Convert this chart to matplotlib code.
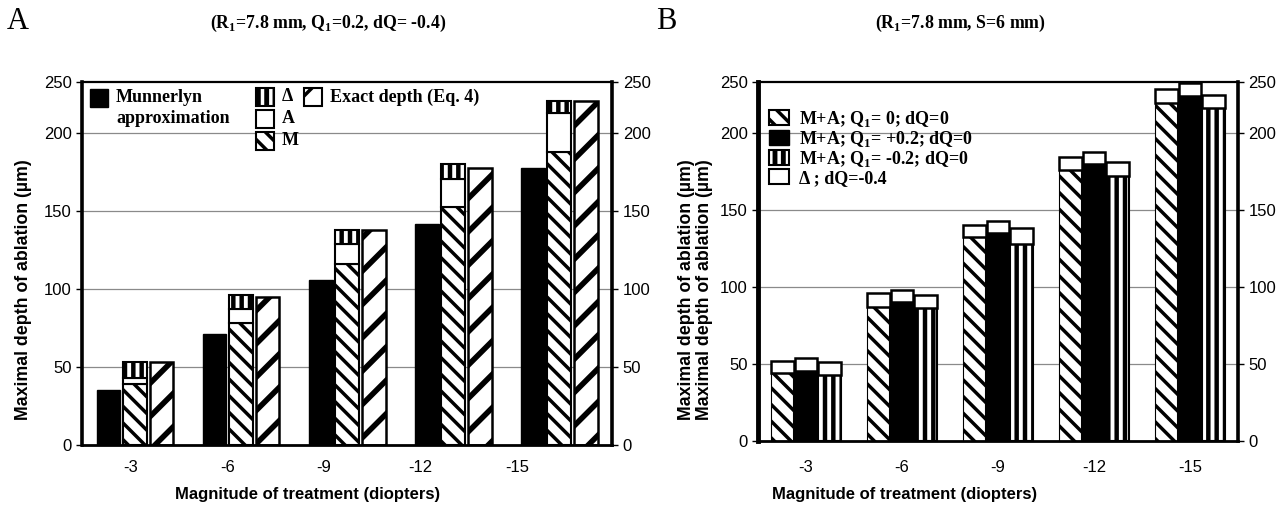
import matplotlib
matplotlib.use('Agg')
import numpy as np
import matplotlib.pyplot as plt
from matplotlib.patches import Patch, Rectangle

plt.rcParams['font.family'] = 'Liberation Sans'
plt.rcParams['mathtext.fontset'] = 'custom'
plt.rcParams['mathtext.bf'] = 'Liberation Serif:bold'
plt.rcParams['mathtext.rm'] = 'Liberation Serif:bold'
plt.rcParams['hatch.linewidth'] = 2.5

doses = ['-3', '-6', '-9', '-12', '-15']

# panel A: stacked M + A + delta, Munnerlyn and exact depth
munnerlyn = [35, 71, 106, 142, 178]
m_part = [39, 78, 116, 153, 188]
a_part = [4, 9, 13, 18, 25]
delta_a = [10, 9, 9, 9, 8]
exact = [53, 95, 138, 178, 221]

# panel B: M+A for three Q1 values, each topped by delta (dQ=-0.4)
ma_q0 = [44, 87, 132, 176, 219.5]
ma_qp = [45.5, 90, 135, 179.5, 224]
ma_qm = [42.5, 86, 128, 172, 216]
delta_q0 = [8, 9, 8, 8.5, 9]
delta_qp = [8, 8, 8, 8, 8]
delta_qm = [8.5, 8.5, 10, 9, 8.5]

serif_b = dict(family='Liberation Serif', weight='bold')
ylab = 'Maximal depth of ablation (\u00b5m)'
xlab = 'Magnitude of treatment (diopters)'


def set_hlw(bars, lw):
    for b in bars:
        if hasattr(b, 'set_hatch_linewidth'):
            b.set_hatch_linewidth(lw)


def striped(ax, x, h, w, bottom=None, lw=1.5):
    b = ax.bar(x, h, w, bottom=bottom, color='black', edgecolor='white',
               hatch='||', linewidth=0, zorder=2)
    set_hlw(b, 2.8)
    ax.bar(x, h, w, bottom=bottom, fill=False, edgecolor='black',
           linewidth=lw, zorder=3)


def style(ax):
    ax.set_xlim(-0.5, 4.5)
    ax.set_ylim(0, 233)
    ax.set_yticks([0, 50, 100, 150, 200, 233], ['0', '50', '100', '150', '200', '250'])
    ax.tick_params(axis='y', left=True, right=True, labelright=True,
                   direction='out', length=4, width=1, labelsize=12)
    ax.tick_params(axis='x', length=0, labelsize=12, pad=11)
    for y in [50, 100, 150, 200]:
        ax.axhline(y, color='#8a8a8a', lw=0.9, zorder=0)
    ax.spines['left'].set_linewidth(2.6)
    ax.spines['right'].set_linewidth(2.6)
    ax.spines['bottom'].set_linewidth(2.0)
    ax.spines['top'].set_linewidth(1.6)


def key(ax, px, py, kind, label=None):
    # legend key placed in pixel-like offsets from the axes' top-left corner
    x0 = px / 530.0
    y0 = 1 - (py + 18) / 363.0
    kw = dict(transform=ax.transAxes, clip_on=False, zorder=5)
    w, h = 18 / 530.0, 18 / 363.0
    if kind == 'solid':
        ax.add_patch(Rectangle((x0, y0), w, h, facecolor='black', edgecolor='black', **kw))
    elif kind == 'white':
        ax.add_patch(Rectangle((x0, y0), w, h, facecolor='white', edgecolor='black', lw=1.5, **kw))
    elif kind == 'stripes':
        ax.add_patch(Rectangle((x0, y0), w, h, facecolor='black', edgecolor='white',
                               hatch='||', lw=0, **kw))
        ax.add_patch(Rectangle((x0, y0), w, h, fill=False, edgecolor='black', lw=1.5, **kw))
    else:
        ax.add_patch(Rectangle((x0, y0), w, h, facecolor='white', edgecolor='black',
                               hatch=kind, lw=1.5, **kw))
    if label:
        ax.text(x0 + 26 / 530.0, y0 + h / 2, label, transform=ax.transAxes,
                ha='left', va='center', fontsize=13, zorder=5, **serif_b)


fig = plt.figure(figsize=(12.87, 5.12), dpi=100)
axA = fig.add_axes([0.0637, 0.131, 0.412, 0.709])
axB = fig.add_axes([0.589, 0.139, 0.373, 0.701])

# ---- panel A ----
x = np.arange(len(doses))
w = 0.25
bw = 0.225
axA.bar(x - w, munnerlyn, bw, color='black', edgecolor='black', linewidth=1, zorder=2)
bm = axA.bar(x, m_part, bw, color='white', edgecolor='black', hatch='\\\\',
             linewidth=1.5, zorder=2)
set_hlw(bm, 2.5)
axA.bar(x, a_part, bw, bottom=m_part, color='white', edgecolor='black',
        linewidth=1.5, zorder=2)
striped(axA, x, delta_a, bw, bottom=np.add(m_part, a_part))
be = axA.bar(x + w, exact, bw, color='white', edgecolor='black', hatch='/',
             linewidth=1.8, zorder=2)
set_hlw(be, 4.0)
style(axA)
axA.set_xticks(x - 0.04 - 0.09 * x, doses)

# legend of panel A, laid out like the original
key(axA, 8, 7, 'solid', 'Munnerlyn')
axA.text((8 + 26) / 530.0, 1 - 37 / 363.0, 'approximation', transform=axA.transAxes,
         ha='left', va='center', fontsize=13, **serif_b)
key(axA, 174, 6, 'stripes', '\u0394')
key(axA, 174, 28, 'white', 'A')
key(axA, 174, 50, '\\\\', 'M')
key(axA, 222, 6, '/', 'Exact depth (Eq. 4)')

axA.set_xlabel(xlab, fontsize=12, weight='bold')
axA.xaxis.set_label_coords(0.425, -0.115)
axA.set_ylabel(ylab, fontsize=12.8, weight='bold')
axA.yaxis.set_label_coords(-0.094, 0.427)
axA.text(1.141, 0.427, ylab, transform=axA.transAxes,
         rotation=90, ha='center', va='center', fontsize=12.8, weight='bold')

# ---- panel B ----
wb = 0.245
bq0 = axB.bar(x - wb, ma_q0, wb, color='white', edgecolor='black', hatch='\\\\',
              linewidth=0.8, zorder=2)
set_hlw(bq0, 2.5)
axB.bar(x, ma_qp, wb, color='black', edgecolor='black', linewidth=1.5, zorder=2)
striped(axB, x + wb, ma_qm, wb)
for off, base, d in [(-wb, ma_q0, delta_q0), (0, ma_qp, delta_qp), (wb, ma_qm, delta_qm)]:
    axB.bar(x + off, d, wb * 0.95, bottom=base, color='white', edgecolor='black',
            linewidth=1.8, zorder=3)
style(axB)
axB.tick_params(axis='x', pad=14)
axB.spines['left'].set_linewidth(3.5)
axB.set_xticks(x, doses)

h_q0 = Patch(facecolor='white', edgecolor='black', hatch='\\\\', linewidth=1.5)
h_qp = Patch(facecolor='black', edgecolor='black')
h_qm = (Patch(facecolor='black', edgecolor='white', hatch='||', linewidth=0),
        Patch(fill=False, edgecolor='black', linewidth=1.5))
h_d = Patch(facecolor='white', edgecolor='black', linewidth=1.5)
axB.legend([h_q0, h_qp, h_qm, h_d],
           ['M+A; Q$_{\\mathbf{1}}$= 0; dQ=0', 'M+A; Q$_{\\mathbf{1}}$= +0.2; dQ=0',
            'M+A; Q$_{\\mathbf{1}}$= -0.2; dQ=0', '\u0394 ; dQ=-0.4'],
           loc='upper left', bbox_to_anchor=(-0.008, 0.965), frameon=False,
           prop=dict(size=13, **serif_b), handlelength=1.15, handleheight=0.9,
           handletextpad=0.55, labelspacing=0.0, borderpad=0.3)

axB.set_xlabel(xlab, fontsize=12, weight='bold')
axB.xaxis.set_label_coords(0.306, -0.13)
axB.set_ylabel(ylab, fontsize=12.8, weight='bold')
axB.yaxis.set_label_coords(-0.094, 0.42)

# titles and panel letters
fig.text(0.255, 0.955, '(R$_{\\mathbf{1}}$=7.8 mm, Q$_{\\mathbf{1}}$=0.2, dQ= -0.4)',
         ha='center', va='center', fontsize=12.8, **serif_b)
fig.text(0.746, 0.955, '(R$_{\\mathbf{1}}$=7.8 mm, S=6 mm)',
         ha='center', va='center', fontsize=12.8, **serif_b)
fig.text(0.005, 0.958, 'A', ha='left', va='center', fontsize=22, family='Liberation Serif')
fig.text(0.51, 0.958, 'B', ha='left', va='center', fontsize=22, family='Liberation Serif')

fig.savefig('out.png', dpi=100)
